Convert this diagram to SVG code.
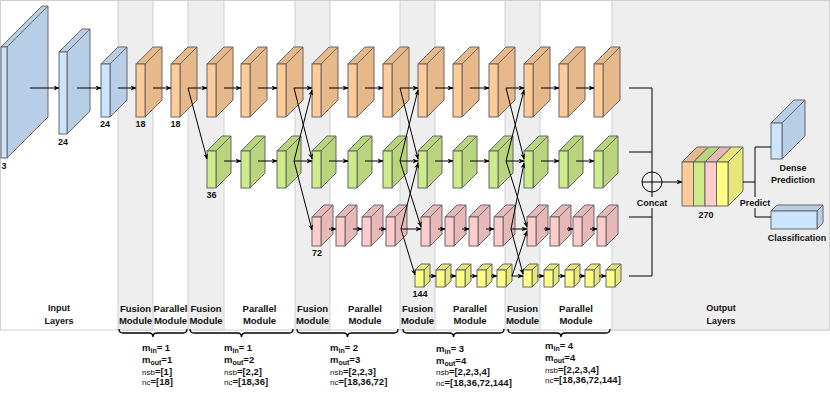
<svg xmlns="http://www.w3.org/2000/svg" width="830" height="394" viewBox="0 0 830 394">
<defs>
<style>
text{font-family:"Liberation Sans",Arial,Helvetica,sans-serif;font-weight:bold;font-size:9px;fill:#111}
.c{text-anchor:middle}
.m{font-size:9.5px}
.pr{font-size:9.5px}
.sub{font-size:7px}
.sm{font-size:8px;font-weight:normal}
.band{fill:#eeeeee;stroke:#d0d0d0;stroke-width:1}
.ln{fill:none;stroke:#000;stroke-width:1}
.ar{marker-end:url(#ah)}
.br{fill:none;stroke:#000;stroke-width:1.3}
.lbg{fill:#eeeeee}
</style>
<marker id="ah" viewBox="0 0 10 10" refX="9" refY="5" markerWidth="6" markerHeight="6" markerUnits="userSpaceOnUse" orient="auto"><path d="M0,1 L10,5 L0,9 L3,5 z" fill="#000"/></marker>
<g id="bO" stroke="#666"><polygon fill="#E6B88A" points="0,0 17,-17 26,-17 9,0"/><polygon fill="#E6B88A" points="9,0 26,-17 26,36 9,53"/><rect fill="#FFCC99" width="9" height="53"/></g>
<g id="bG" stroke="#666"><polygon fill="#B9D47D" points="0,0 15,-15 24,-15 9,0"/><polygon fill="#B9D47D" points="9,0 24,-15 24,22 9,37"/><rect fill="#CDEB8B" width="9" height="37"/></g>
<g id="bP" stroke="#666"><polygon fill="#E6B8B8" points="0,0 12,-12 21,-12 9,0"/><polygon fill="#E6B8B8" points="9,0 21,-12 21,17 9,29"/><rect fill="#FFCCCC" width="9" height="29"/></g>
<g id="bY" stroke="#666"><polygon fill="#E6E67A" points="0,0 6,-6 15,-6 9,0"/><polygon fill="#E6E67A" points="9,0 15,-6 15,11 9,17"/><rect fill="#FFFF88" width="9" height="17"/></g>
</defs>

<g id="background">
<rect x="0.5" y="0.5" width="829" height="329.5" fill="#ffffff" stroke="#d0d0d0"/>
<rect class="band" x="118" y="0.5" width="35" height="329.5"/>
<rect class="band" x="188" y="0.5" width="36" height="329.5"/>
<rect class="band" x="295" y="0.5" width="35" height="329.5"/>
<rect class="band" x="400" y="0.5" width="35" height="329.5"/>
<rect class="band" x="505" y="0.5" width="35" height="329.5"/>
<rect class="band" x="612" y="0.5" width="217.5" height="329.5"/>
</g>

<g id="band-labels">
<text class="c" x="59" y="311">Input</text><text class="c" x="59" y="324">Layers</text>
<text class="c m" x="135.5" y="312">Fusion</text><text class="c m" x="135.5" y="324">Module</text>
<text class="c m" x="170.5" y="312">Parallel</text><text class="c m" x="170.5" y="324">Module</text>
<text class="c m" x="206" y="312">Fusion</text><text class="c m" x="206" y="324">Module</text>
<text class="c m" x="259.5" y="312">Parallel</text><text class="c m" x="259.5" y="324">Module</text>
<text class="c m" x="312.5" y="312">Fusion</text><text class="c m" x="312.5" y="324">Module</text>
<text class="c m" x="365" y="312">Parallel</text><text class="c m" x="365" y="324">Module</text>
<text class="c m" x="417.5" y="312">Fusion</text><text class="c m" x="417.5" y="324">Module</text>
<text class="c m" x="470" y="312">Parallel</text><text class="c m" x="470" y="324">Module</text>
<text class="c m" x="522.5" y="312">Fusion</text><text class="c m" x="522.5" y="324">Module</text>
<text class="c m" x="576" y="312">Parallel</text><text class="c m" x="576" y="324">Module</text>
<text class="c" x="721" y="311">Output</text><text class="c" x="721" y="324">Layers</text>
</g>

<g id="input-1" stroke="#666"><polygon fill="#B8CEE6" points="1,47 42,6 48,6 7,47"/><polygon fill="#B8CEE6" points="7,47 48,6 48,117 7,158"/><rect fill="#CCE5FF" x="1" y="47" width="6" height="111"/><text class="c" x="4" y="168.5" stroke="none">3</text></g>
<g id="input-2" stroke="#666"><polygon fill="#B8CEE6" points="59,52 82,29 90,29 67,52"/><polygon fill="#B8CEE6" points="67,52 90,29 90,111 67,134"/><rect fill="#CCE5FF" x="59" y="52" width="8" height="82"/><text class="c" x="63" y="144.5" stroke="none">24</text></g>
<g id="input-3" stroke="#666"><polygon fill="#B8CEE6" points="101,64 118,47 127,47 110,64"/><polygon fill="#B8CEE6" points="110,64 127,47 127,100 110,117"/><rect fill="#CCE5FF" x="101" y="64" width="9" height="53"/><text class="c" x="105" y="127" stroke="none">24</text></g>

<g id="o1"><use href="#bO" x="136" y="64"/><text class="c" x="140.5" y="127">18</text></g>
<g id="o2"><use href="#bO" x="171" y="64"/><text class="c" x="175.5" y="127">18</text></g>
<g id="o3"><use href="#bO" x="207" y="64"/></g>
<g id="o4"><use href="#bO" x="241" y="64"/></g>
<g id="o5"><use href="#bO" x="277" y="64"/></g>
<g id="o6"><use href="#bO" x="312" y="64"/></g>
<g id="o7"><use href="#bO" x="348" y="64"/></g>
<g id="o8"><use href="#bO" x="383" y="64"/></g>
<g id="o9"><use href="#bO" x="418" y="64"/></g>
<g id="o10"><use href="#bO" x="453" y="64"/></g>
<g id="o11"><use href="#bO" x="489" y="64"/></g>
<g id="o12"><use href="#bO" x="524" y="64"/></g>
<g id="o13"><use href="#bO" x="559" y="64"/></g>
<g id="o14"><use href="#bO" x="594" y="64"/></g>

<g id="g1"><use href="#bG" x="207" y="151"/><text class="c" x="211.5" y="197.5">36</text></g>
<g id="g2"><use href="#bG" x="241" y="151"/></g>
<g id="g3"><use href="#bG" x="277" y="151"/></g>
<g id="g4"><use href="#bG" x="312" y="151"/></g>
<g id="g5"><use href="#bG" x="348" y="151"/></g>
<g id="g6"><use href="#bG" x="383" y="151"/></g>
<g id="g7"><use href="#bG" x="418" y="151"/></g>
<g id="g8"><use href="#bG" x="453" y="151"/></g>
<g id="g9"><use href="#bG" x="489" y="151"/></g>
<g id="g10"><use href="#bG" x="524" y="151"/></g>
<g id="g11"><use href="#bG" x="559" y="151"/></g>
<g id="g12"><use href="#bG" x="594" y="151"/></g>

<g id="p1"><use href="#bP" x="312" y="217"/><text class="c" x="317" y="256">72</text></g>
<g id="p2"><use href="#bP" x="336" y="217"/></g>
<g id="p3"><use href="#bP" x="362" y="217"/></g>
<g id="p4"><use href="#bP" x="386" y="217"/></g>
<g id="p5"><use href="#bP" x="421" y="217"/></g>
<g id="p6"><use href="#bP" x="445" y="217"/></g>
<g id="p7"><use href="#bP" x="469" y="217"/></g>
<g id="p8"><use href="#bP" x="494" y="217"/></g>
<g id="p9"><use href="#bP" x="527" y="217"/></g>
<g id="p10"><use href="#bP" x="550" y="217"/></g>
<g id="p11"><use href="#bP" x="573" y="217"/></g>
<g id="p12"><use href="#bP" x="597" y="217"/></g>

<g id="y1"><use href="#bY" x="415" y="270"/><text class="c" x="420" y="296.5">144</text></g>
<g id="y2"><use href="#bY" x="436" y="270"/></g>
<g id="y3"><use href="#bY" x="456" y="270"/></g>
<g id="y4"><use href="#bY" x="477" y="270"/></g>
<g id="y5"><use href="#bY" x="497" y="270"/></g>
<g id="y6"><use href="#bY" x="523" y="270"/></g>
<g id="y7"><use href="#bY" x="544" y="270"/></g>
<g id="y8"><use href="#bY" x="565" y="270"/></g>
<g id="y9"><use href="#bY" x="585" y="270"/></g>
<g id="y10"><use href="#bY" x="606" y="270"/></g>

<g id="concat-box" stroke="#666">
<polygon fill="#E6B88A" points="682,162 697,147 708.5,147 693.5,162"/><polygon fill="#E6B88A" points="693.5,162 708.5,147 708.5,191 693.5,206"/><rect fill="#FFCC99" x="682" y="162" width="11.5" height="44"/>
<polygon fill="#B9D47D" points="693.5,162 708.5,147 720,147 705,162"/><polygon fill="#B9D47D" points="705,162 720,147 720,191 705,206"/><rect fill="#CDEB8B" x="693.5" y="162" width="11.5" height="44"/>
<polygon fill="#E6B8B8" points="705,162 720,147 731.5,147 716.5,162"/><polygon fill="#E6B8B8" points="716.5,162 731.5,147 731.5,191 716.5,206"/><rect fill="#FFCCCC" x="705" y="162" width="11.5" height="44"/>
<polygon fill="#E6E67A" points="716.5,162 731.5,147 743,147 728,162"/><polygon fill="#E6E67A" points="728,162 743,147 743,191 728,206"/><rect fill="#FFFF88" x="716.5" y="162" width="11.5" height="44"/>
<text class="c" x="706" y="218" stroke="none">270</text>
</g>

<g id="dense" stroke="#666"><polygon fill="#B8CEE6" points="771,123 794,100 805,100 782,123"/><polygon fill="#B8CEE6" points="782,123 805,100 805,136 782,159"/><rect fill="#CCE5FF" x="771" y="123" width="11" height="36"/><text class="c" x="793" y="171" stroke="none">Dense</text><text class="c" x="793" y="183" stroke="none">Prediction</text></g>
<g id="classification" stroke="#666"><polygon fill="#B8CEE6" points="771,211 777,205 823,205 817,211"/><polygon fill="#B8CEE6" points="817,211 823,205 823,223 817,229"/><rect fill="#CCE5FF" x="771" y="211" width="46" height="18"/><text class="c" x="797" y="241" stroke="none">Classification</text></g>

<g id="connectors" class="ln">
<line class="ar" x1="30" y1="88" x2="59" y2="88"/>
<line class="ar" x1="77" y1="88" x2="101" y2="88"/>
<line class="ar" x1="118" y1="88" x2="136" y2="88"/>
<line class="ar" x1="153" y1="88" x2="171" y2="88"/>
<line class="ar" x1="188" y1="88" x2="207" y2="88"/>
<line class="ar" x1="224" y1="88" x2="241" y2="88"/>
<line class="ar" x1="258" y1="88" x2="277" y2="88"/>
<line class="ar" x1="294" y1="88" x2="312" y2="88"/>
<line class="ar" x1="329" y1="88" x2="348" y2="88"/>
<line class="ar" x1="365" y1="88" x2="383" y2="88"/>
<line class="ar" x1="400" y1="88" x2="418" y2="88"/>
<line class="ar" x1="435" y1="88" x2="453" y2="88"/>
<line class="ar" x1="470" y1="88" x2="489" y2="88"/>
<line class="ar" x1="506" y1="88" x2="524" y2="88"/>
<line class="ar" x1="541" y1="88" x2="559" y2="88"/>
<line class="ar" x1="576" y1="88" x2="594" y2="88"/>

<line class="ar" x1="224" y1="161" x2="241" y2="161"/>
<line class="ar" x1="258" y1="161" x2="277" y2="161"/>
<line class="ar" x1="294" y1="161" x2="312" y2="161"/>
<line class="ar" x1="329" y1="161" x2="348" y2="161"/>
<line class="ar" x1="365" y1="161" x2="383" y2="161"/>
<line class="ar" x1="400" y1="161" x2="418" y2="161"/>
<line class="ar" x1="435" y1="161" x2="453" y2="161"/>
<line class="ar" x1="470" y1="161" x2="489" y2="161"/>
<line class="ar" x1="506" y1="161" x2="524" y2="161"/>
<line class="ar" x1="541" y1="161" x2="559" y2="161"/>
<line class="ar" x1="576" y1="161" x2="594" y2="161"/>

<line class="ar" x1="329" y1="229" x2="336" y2="229"/>
<line class="ar" x1="353" y1="229" x2="362" y2="229"/>
<line class="ar" x1="379" y1="229" x2="386" y2="229"/>
<line class="ar" x1="401" y1="229" x2="421" y2="229"/>
<line class="ar" x1="438" y1="229" x2="445" y2="229"/>
<line class="ar" x1="462" y1="229" x2="469" y2="229"/>
<line class="ar" x1="486" y1="229" x2="494" y2="229"/>
<line class="ar" x1="511" y1="229" x2="527" y2="229"/>
<line class="ar" x1="544" y1="229" x2="550" y2="229"/>
<line class="ar" x1="567" y1="229" x2="573" y2="229"/>
<line class="ar" x1="590" y1="229" x2="597" y2="229"/>

<line class="ar" x1="429" y1="276" x2="436" y2="276"/>
<line class="ar" x1="450" y1="276" x2="456" y2="276"/>
<line class="ar" x1="470" y1="276" x2="477" y2="276"/>
<line class="ar" x1="491" y1="276" x2="497" y2="276"/>
<line class="ar" x1="512" y1="276" x2="523" y2="276"/>
<line class="ar" x1="537" y1="276" x2="544" y2="276"/>
<line class="ar" x1="558" y1="276" x2="565" y2="276"/>
<line class="ar" x1="579" y1="276" x2="585" y2="276"/>
<line class="ar" x1="599" y1="276" x2="606" y2="276"/>

<line class="ar" x1="188" y1="88" x2="207" y2="159"/>

<line class="ar" x1="294" y1="88" x2="312" y2="159"/>
<line class="ar" x1="294" y1="161" x2="312" y2="90"/>
<line class="ar" x1="294" y1="161" x2="312" y2="230"/>

<line class="ar" x1="400" y1="88" x2="418" y2="159"/>
<line class="ar" x1="400" y1="161" x2="418" y2="90"/>
<line class="ar" x1="400" y1="161" x2="421" y2="227"/>
<line class="ar" x1="401" y1="229" x2="418" y2="163"/>
<line class="ar" x1="401" y1="229" x2="415" y2="275"/>

<line class="ar" x1="506" y1="88" x2="524" y2="159"/>
<line class="ar" x1="506" y1="161" x2="524" y2="90"/>
<line class="ar" x1="506" y1="161" x2="527" y2="227"/>
<line class="ar" x1="511" y1="229" x2="524" y2="163"/>
<line class="ar" x1="511" y1="229" x2="523" y2="274"/>
<line class="ar" x1="512" y1="276" x2="527" y2="231"/>

<line x1="629" y1="88" x2="652" y2="88"/>
<line x1="629" y1="152" x2="652" y2="152"/>
<line x1="629" y1="217" x2="652" y2="217"/>
<line x1="629" y1="276" x2="652" y2="276"/>
<line x1="652" y1="88" x2="652" y2="276"/>
<line class="ar" x1="662" y1="182" x2="682" y2="182"/>
<line x1="743" y1="182" x2="755" y2="182"/>
<line x1="755" y1="147" x2="755" y2="217"/>
<line x1="755" y1="147" x2="771" y2="147"/>
<line x1="755" y1="217" x2="771" y2="217"/>
</g>

<g id="concat-op">
<circle cx="652" cy="182" r="10" fill="none" stroke="#000"/>
<line x1="642" y1="182" x2="662" y2="182" stroke="#000"/>
<rect class="lbg" x="633" y="197" width="38" height="11"/>
<text class="c" x="652" y="206">Concat</text>
</g>
<g id="predict-label">
<rect class="lbg" x="738" y="197" width="34" height="11"/>
<text class="c" x="755" y="206">Predict</text>
</g>

<g id="braces">
<path class="br" d="M119,329 Q119,333 123,333 L149,333 Q153,333 153,337 Q153,333 157,333 L183,333 Q187,333 187,329"/>
<path class="br" d="M190,329 Q190,333 194,333 L237.5,333 Q241.5,333 241.5,337 Q241.5,333 245.5,333 L289,333 Q293,333 293,329"/>
<path class="br" d="M297,329 Q297,333 301,333 L343.5,333 Q347.5,333 347.5,337 Q347.5,333 351.5,333 L394,333 Q398,333 398,329"/>
<path class="br" d="M403,329 Q403,333 407,333 L449.5,333 Q453.5,333 453.5,337 Q453.5,333 457.5,333 L500,333 Q504,333 504,329"/>
<path class="br" d="M508,329 Q508,333 512,333 L557,333 Q561,333 561,337 Q561,333 565,333 L606,333 Q610,333 610,329"/>
</g>

<g id="params">
<text class="pr" x="142" y="351">m<tspan class="sub" dy="2">in</tspan><tspan dy="-2">= 1</tspan></text>
<text class="pr" x="142" y="363">m<tspan class="sub" dy="2">out</tspan><tspan dy="-2">=1</tspan></text>
<text class="pr" x="142" y="374.5"><tspan class="sm">nsb</tspan>=[1]</text>
<text class="pr" x="142" y="385"><tspan class="sm">nc</tspan>=[18]</text>

<text class="pr" x="224" y="351">m<tspan class="sub" dy="2">in</tspan><tspan dy="-2">= 1</tspan></text>
<text class="pr" x="224" y="363">m<tspan class="sub" dy="2">out</tspan><tspan dy="-2">=2</tspan></text>
<text class="pr" x="224" y="374.5"><tspan class="sm">nsb</tspan>=[2,2]</text>
<text class="pr" x="224" y="385"><tspan class="sm">nc</tspan>=[18,36]</text>

<text class="pr" x="330" y="351">m<tspan class="sub" dy="2">in</tspan><tspan dy="-2">= 2</tspan></text>
<text class="pr" x="330" y="363">m<tspan class="sub" dy="2">out</tspan><tspan dy="-2">=3</tspan></text>
<text class="pr" x="330" y="374.5"><tspan class="sm">nsb</tspan>=[2,2,3]</text>
<text class="pr" x="330" y="385"><tspan class="sm">nc</tspan>=[18,36,72]</text>

<text class="pr" x="436" y="352">m<tspan class="sub" dy="2">in</tspan><tspan dy="-2">= 3</tspan></text>
<text class="pr" x="436" y="363.5">m<tspan class="sub" dy="2">out</tspan><tspan dy="-2">=4</tspan></text>
<text class="pr" x="436" y="375">
<tspan class="sm">nsb</tspan>=[2,2,3,4]</text>
<text class="pr" x="436" y="385.5"><tspan class="sm">nc</tspan>=[18,36,72,144]</text>

<text class="pr" x="545" y="348.5">m<tspan class="sub" dy="2">in</tspan><tspan dy="-2">= 4</tspan></text>
<text class="pr" x="545" y="360.5">m<tspan class="sub" dy="2">out</tspan><tspan dy="-2">=4</tspan></text>
<text class="pr" x="545" y="372.5"><tspan class="sm">nsb</tspan>=[2,2,3,4]</text>
<text class="pr" x="545" y="383"><tspan class="sm">nc</tspan>=[18,36,72,144]</text>
</g>
</svg>
